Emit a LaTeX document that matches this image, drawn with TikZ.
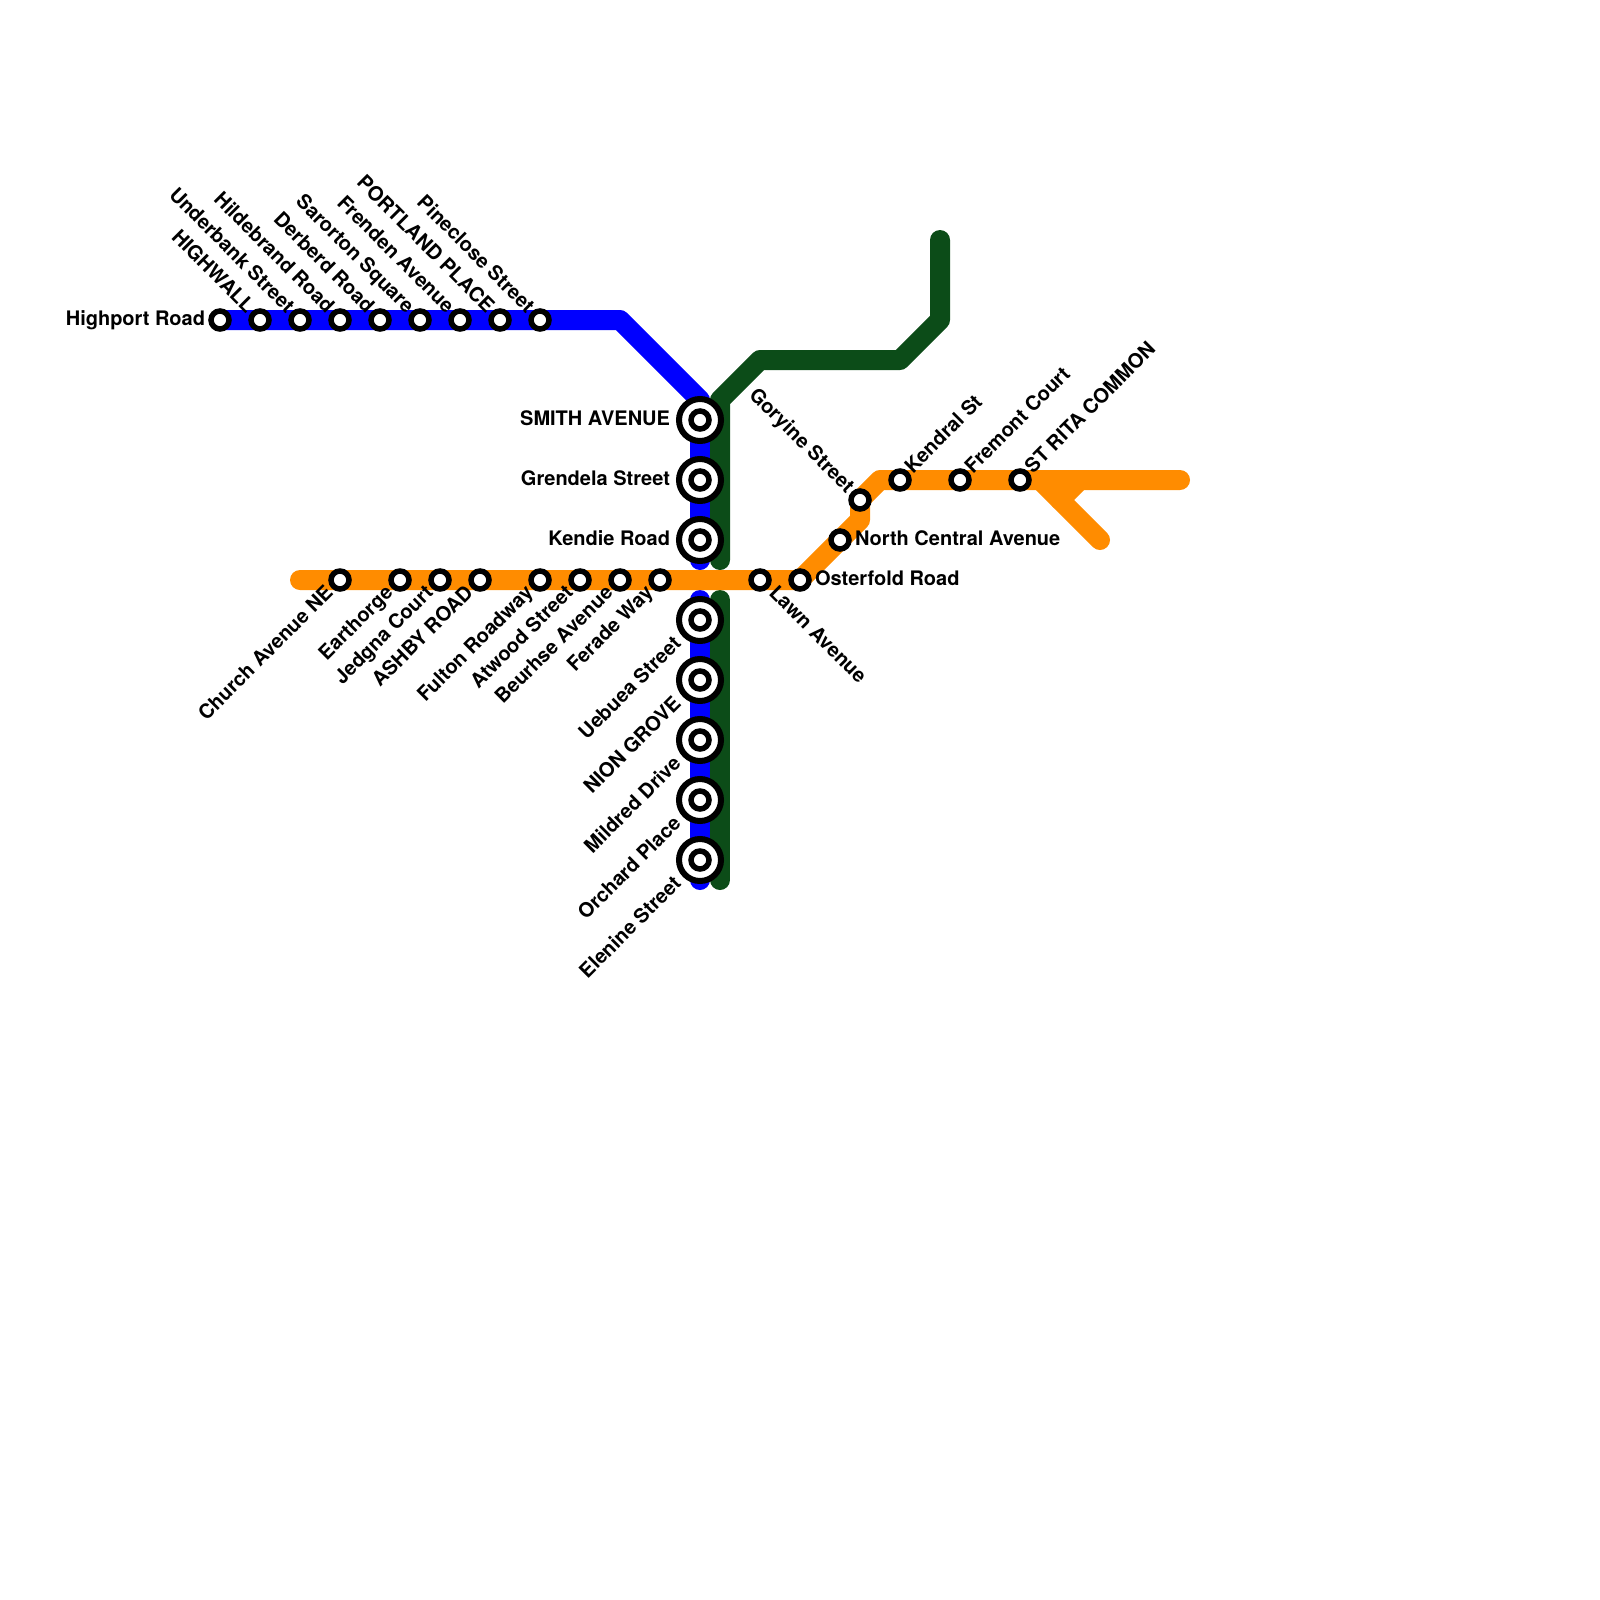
\documentclass[tikz,border=0pt]{standalone}
\usepackage{fontspec}
\setmainfont{TeX Gyre Heros}
\definecolor{lblue}{RGB}{0,0,255}
\definecolor{lgreen}{RGB}{12,76,24}
\definecolor{lorange}{RGB}{255,140,0}
\tikzset{
  metro/.style={line width=20pt,line cap=round,line join=round},
  smallst/.style={circle,draw=black,fill=white,line width=5.5pt,minimum size=18pt,inner sep=0pt,outer sep=0pt},
  bigst/.style={circle,draw=black,fill=white,line width=6pt,minimum size=42pt,inner sep=0pt,outer sep=0pt},
  lab/.style={font=\fontsize{20}{20}\selectfont\bfseries,inner sep=0pt,outer sep=0pt,text=black},
  ul/.style={lab,rotate=-45,anchor=base east},
  dl/.style={lab,rotate=45,anchor=base east},
  ur/.style={lab,rotate=45,anchor=base west},
  dr/.style={lab,rotate=-45,anchor=base west},
  wl/.style={lab,anchor=base east},
  el/.style={lab,anchor=base west}
}
\begin{document}
\begin{tikzpicture}[x=1pt,y=-1pt]
\useasboundingbox (0,0) rectangle (1600,1600);
% bends
\coordinate (b1) at (620,320);
\coordinate (b2) at (700,400);
\coordinate (b3) at (700,560);
\coordinate (b4) at (700,600);
\coordinate (b5) at (700,880);
\coordinate (g1) at (940,240);
\coordinate (g2) at (940,320);
\coordinate (g3) at (900,360);
\coordinate (g4) at (760,360);
\coordinate (g5) at (720,400);
\coordinate (g6) at (720,560);
\coordinate (g7) at (720,600);
\coordinate (g8) at (720,880);
\coordinate (o1) at (300,580);
\coordinate (o2) at (860,520);
\coordinate (o3) at (860,500);
\coordinate (o4) at (880,480);
\coordinate (o5) at (1180,480);
\coordinate (o6) at (1040,480);
\coordinate (o7) at (1100,540);
\coordinate (o8) at (1060,500);
\coordinate (o9) at (1080,480);
% stations
\foreach \n/\x in {a1/220,a2/260,a3/300,a4/340,a5/380,a6/420,a7/460,a8/500,a9/540}
  \coordinate (\n) at (\x,320);
\foreach \n/\y in {v1/420,v2/480,v3/540,v4/620,v5/680,v6/740,v7/800,v8/860}
  \coordinate (\n) at (700,\y);
\foreach \n/\x in {h1/340,h2/400,h3/440,h4/480,h5/540,h6/580,h7/620,h8/660,h9/760,h10/800}
  \coordinate (\n) at (\x,580);
\coordinate (r1) at (840,540);
\coordinate (r2) at (860,500);
\coordinate (r3) at (900,480);
\coordinate (r4) at (960,480);
\coordinate (r5) at (1020,480);
% lines
\draw[metro,lblue] (a1) -- (b1) -- (b2) -- (b3);
\draw[metro,lblue] (b4) -- (b5);
\draw[metro,lgreen] (g1) -- (g2) -- (g3) -- (g4) -- (g5) -- (g6);
\draw[metro,lgreen] (g7) -- (g8);
\draw[metro,lorange] (o1) -- (h10) -- (o2) -- (o3) -- (o4) -- (o5);
\draw[metro,lorange] (o6) -- (o7);
\draw[metro,lorange] (o8) -- (o9);
% small stations
\foreach \n in {a1,a2,a3,a4,a5,a6,a7,a8,a9,h1,h2,h3,h4,h5,h6,h7,h8,h9,h10,r1,r2,r3,r4,r5}
  \node[smallst] (n\n) at (\n) {};
% interchange stations
\foreach \n in {v1,v2,v3,v4,v5,v6,v7,v8}{
  \node[bigst] (n\n) at (\n) {};
  \node[smallst] (i\n) at (\n) {};
}
% labels
\node[wl] (la1) at ([shift={(-15,5.5)}]a1) {Highport Road};
\node[ul] (la2) at ([shift={(-14,-6)}]a2) {HIGHWALL};
\node[ul] (la3) at ([shift={(-14,-6)}]a3) {Underbank Street};
\node[ul] (la4) at ([shift={(-14,-6)}]a4) {Hildebrand Road};
\node[ul] (la5) at ([shift={(-14,-6)}]a5) {Derberd Road};
\node[ul] (la6) at ([shift={(-14,-6)}]a6) {Sarorton Square};
\node[ul] (la7) at ([shift={(-14,-6)}]a7) {Frenden Avenue};
\node[ul] (la8) at ([shift={(-14,-6)}]a8) {PORTLAND PLACE};
\node[ul] (la9) at ([shift={(-14,-6)}]a9) {Pineclose Street};
\node[wl] (lv1) at ([shift={(-30,5.5)}]v1) {SMITH AVENUE};
\node[wl] (lv2) at ([shift={(-30,5.5)}]v2) {Grendela Street};
\node[wl] (lv3) at ([shift={(-30,5.5)}]v3) {Kendie Road};
\node[dl] (lv4) at ([shift={(-18,25)}]v4) {Uebuea Street};
\node[dl] (lv5) at ([shift={(-18,25)}]v5) {NION GROVE};
\node[dl] (lv6) at ([shift={(-18,25)}]v6) {Mildred Drive};
\node[dl] (lv7) at ([shift={(-18,25)}]v7) {Orchard Place};
\node[dl] (lv8) at ([shift={(-18,25)}]v8) {Elenine Street};
\node[dl] (lh1) at ([shift={(-6,14)}]h1) {Church Avenue NE};
\node[dl] (lh2) at ([shift={(-6,14)}]h2) {Earthorge};
\node[dl] (lh3) at ([shift={(-6,14)}]h3) {Jedgna Court};
\node[dl] (lh4) at ([shift={(-6,14)}]h4) {ASHBY ROAD};
\node[dl] (lh5) at ([shift={(-6,14)}]h5) {Fulton Roadway};
\node[dl] (lh6) at ([shift={(-6,14)}]h6) {Atwood Street};
\node[dl] (lh7) at ([shift={(-6,14)}]h7) {Beurhse Avenue};
\node[dl] (lh8) at ([shift={(-6,14)}]h8) {Ferade Way};
\node[dr] (lh9) at ([shift={(8,14)}]h9) {Lawn Avenue};
\node[el] (lh10) at ([shift={(15,5.5)}]h10) {Osterfold Road};
\node[el] (lr1) at ([shift={(15,5.5)}]r1) {North Central Avenue};
\node[ul] (lr2) at ([shift={(-14,-6)}]r2) {Goryine Street};
\node[ur] (lr3) at ([shift={(13,-6)}]r3) {Kendral St};
\node[ur] (lr4) at ([shift={(13,-6)}]r4) {Fremont Court};
\node[ur] (lr5) at ([shift={(13,-6)}]r5) {ST RITA COMMON};
\end{tikzpicture}
\end{document}
